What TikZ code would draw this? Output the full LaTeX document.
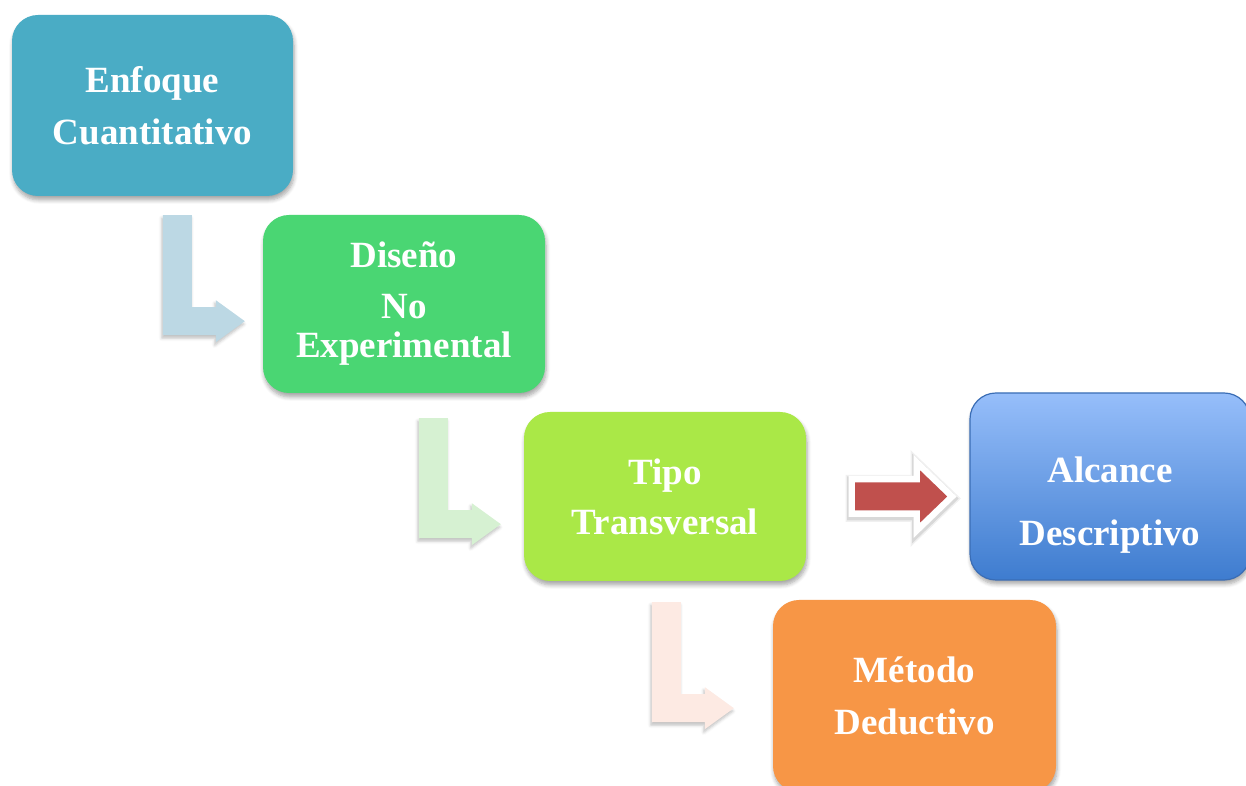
\documentclass[tikz,border=0pt]{standalone}
\usepackage{fontspec}
\setmainfont{Liberation Serif}
\usetikzlibrary{shadows.blur,calc}

\definecolor{tealbox}{HTML}{4AACC5}
\definecolor{greenbox}{HTML}{4AD673}
\definecolor{limebox}{HTML}{AAE847}
\definecolor{bluetop}{HTML}{96BEFA}
\definecolor{bluebot}{HTML}{3E7CCF}
\definecolor{blueedge}{HTML}{3A6DB5}
\definecolor{orangebox}{HTML}{F79646}
\definecolor{arrowblue}{HTML}{BCD8E4}
\definecolor{arrowgreen}{HTML}{D6F1D2}
\definecolor{arrowpink}{HTML}{FDEAE3}
\definecolor{arrowred}{HTML}{C0504D}

\tikzset{
  x=1pt, y=1pt,
  softshadow/.style={blur shadow={shadow xshift=1pt, shadow yshift=-4pt,
      shadow blur steps=6, shadow blur radius=4pt, shadow opacity=35}},
  stepbox/.style={rounded corners=26pt, text=white, inner sep=0pt,
      font=\bfseries\fontsize{37}{52}\selectfont, align=center, softshadow},
  % bent process arrow, origin at its top-left corner
  pics/bendarrow/.style={code={
      \fill[#1, blur shadow={shadow xshift=-1pt, shadow yshift=-3pt,
          shadow blur steps=4, shadow blur radius=3pt, shadow opacity=25}]
        (0,0) -- (29,0) -- (29,-92) -- (53,-92) -- (53,-85) -- (82,-106)
        -- (53,-127) -- (53,-120) -- (0,-120) -- cycle;
  }},
  % straight block arrow with a white rim, origin at the middle of its tail
  pics/blockarrow/.style={code={
      \def\blockpath{(0,14) -- (65,14) -- (65,26) -- (92,0)
         -- (65,-26) -- (65,-14) -- (0,-14) -- cycle}
      \draw[black, opacity=0.06, line width=19pt, line join=miter,
            shift={(0,-2)}] \blockpath;
      \draw[black, opacity=0.10, line width=16pt, line join=miter,
            shift={(0,-2)}] \blockpath;
      \draw[white, line width=13pt, line join=miter] \blockpath;
      \fill[#1] \blockpath;
  }},
}

\begin{document}
\begin{tikzpicture}
  \useasboundingbox (0,0) rectangle (1246,786);

  % process steps
  \node[stepbox, fill=tealbox, minimum width=281pt, minimum height=181pt]
    (b1) at (152.5,680.5) {Enfoque\\Cuantitativo};
  \node[stepbox, fill=greenbox, minimum width=282pt, minimum height=178pt,
        font=\bfseries\fontsize{37}{51}\selectfont]
    (b2) at (404,482) {Diseño\\No\\[-12pt]Experimental};
  \node[stepbox, fill=limebox, minimum width=282pt, minimum height=169pt,
        font=\bfseries\fontsize{37}{50}\selectfont]
    (b3) at (665,289.5) {Tipo\\Transversal};
  \node[stepbox, top color=bluetop, bottom color=bluebot, draw=blueedge,
        line width=1.2pt, minimum width=280pt, minimum height=187pt,
        font=\bfseries\fontsize{37}{63}\selectfont]
    (b4) at (1110,299.5) {\rule{0pt}{62pt}Alcance\\Descriptivo};
  \node[stepbox, fill=orangebox, minimum width=283pt, minimum height=192pt]
    (b5) at (914.5,90) {Método\\Deductivo};

  % anchors for the arrows
  \coordinate (a1) at ($(b1.south west)+(151,-19)$);
  \coordinate (a2) at ($(b2.south west)+(156,-25)$);
  \coordinate (a3) at ($(b3.south west)+(128,-21)$);
  \coordinate (a4) at ($(b3.east)+(49,0)$);

  \pic at (a1) {bendarrow=arrowblue};
  \pic at (a2) {bendarrow=arrowgreen};
  \pic at (a3) {bendarrow=arrowpink};
  \pic at (a4) {blockarrow=arrowred};
\end{tikzpicture}
\end{document}
